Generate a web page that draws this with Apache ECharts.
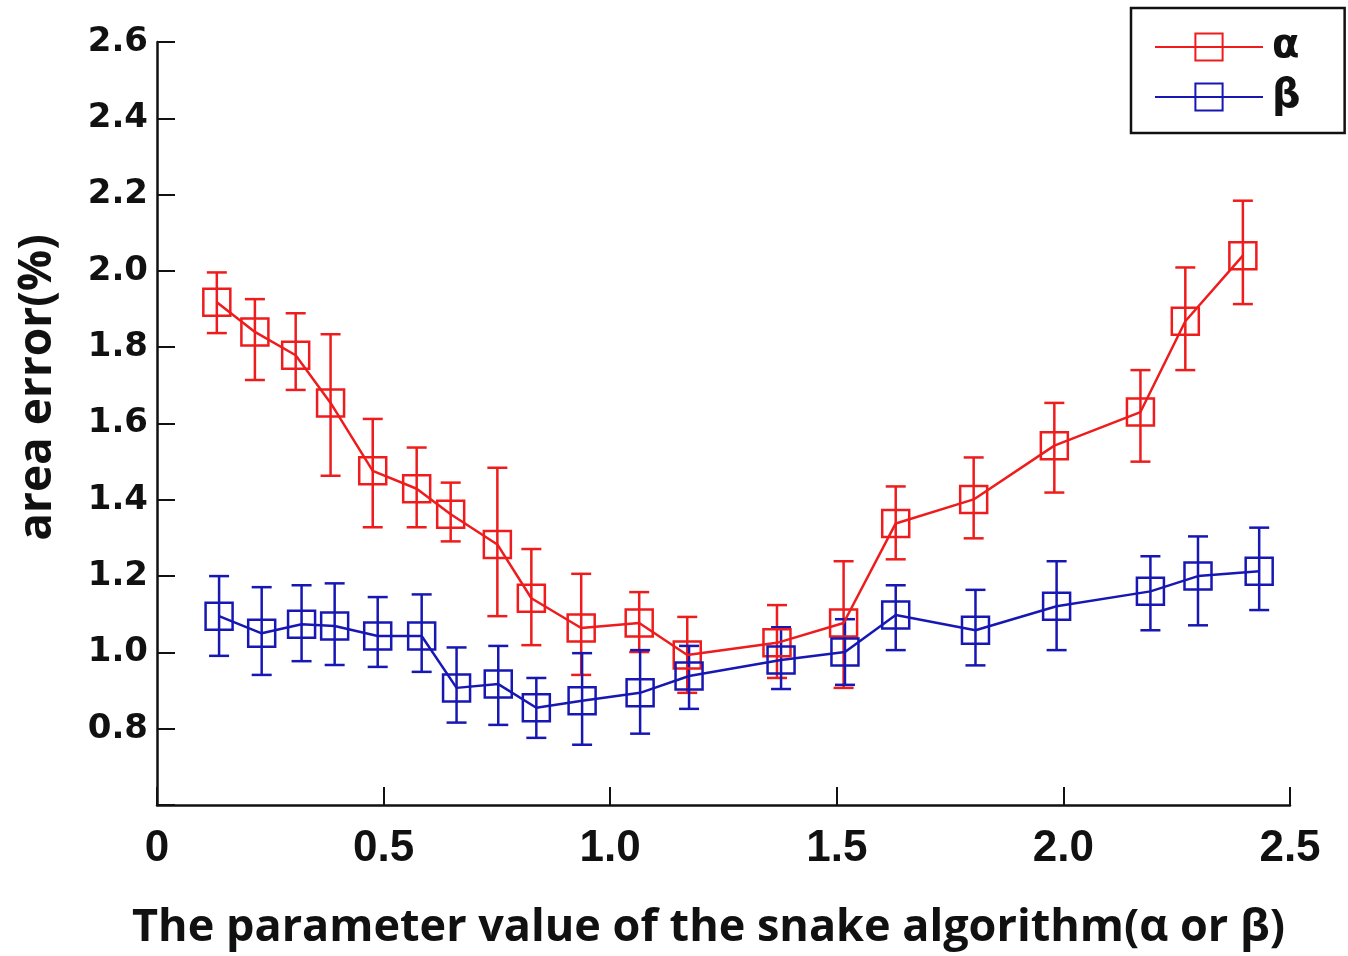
<!DOCTYPE html>
<html>
<head>
<meta charset="utf-8">
<script src="https://cdn.jsdelivr.net/npm/echarts@6/dist/echarts.min.js"></script>
<style>
  html, body { margin: 0; padding: 0; background: #fff; }
  #chart { width: 1348px; height: 956px; }
</style>
</head>
<body>
<div id="chart"></div>
<script>
// parameter values (x) and area error (%) with error bar bounds
var alphaX = [0.132, 0.216, 0.306, 0.383, 0.476, 0.573, 0.648, 0.751, 0.826, 0.936, 1.064, 1.170, 1.368, 1.515, 1.630, 1.802, 1.980, 2.170, 2.269, 2.396];
var alphaY = [1.918, 1.840, 1.779, 1.654, 1.476, 1.429, 1.362, 1.283, 1.142, 1.064, 1.077, 0.993, 1.025, 1.077, 1.338, 1.401, 1.542, 1.630, 1.868, 2.040];
var alphaHi = [1.996, 1.926, 1.889, 1.834, 1.612, 1.537, 1.445, 1.484, 1.271, 1.206, 1.158, 1.093, 1.124, 1.239, 1.435, 1.511, 1.654, 1.740, 2.009, 2.184];
var alphaLo = [1.837, 1.714, 1.688, 1.463, 1.328, 1.328, 1.291, 1.095, 1.019, 0.941, 1.001, 0.894, 0.933, 0.907, 1.244, 1.299, 1.419, 1.500, 1.740, 1.913];

var betaX = [0.137, 0.231, 0.319, 0.392, 0.487, 0.584, 0.661, 0.753, 0.837, 0.938, 1.066, 1.174, 1.377, 1.518, 1.630, 1.806, 1.985, 2.192, 2.297, 2.432];
var betaY = [1.095, 1.050, 1.074, 1.069, 1.043, 1.043, 0.907, 0.917, 0.855, 0.873, 0.894, 0.938, 0.980, 1.001, 1.098, 1.058, 1.121, 1.160, 1.200, 1.213];
var betaHi = [1.200, 1.171, 1.176, 1.181, 1.145, 1.152, 1.013, 1.017, 0.933, 0.998, 1.006, 1.017, 1.066, 1.087, 1.176, 1.164, 1.239, 1.252, 1.304, 1.327];
var betaLo = [0.991, 0.941, 0.977, 0.967, 0.962, 0.949, 0.816, 0.810, 0.776, 0.758, 0.787, 0.852, 0.904, 0.915, 1.006, 0.966, 1.006, 1.058, 1.071, 1.111];

var seriesNames = ['α', 'β'];
var colors = ['#ee1c1c', '#1717b4'];

function pairs(xs, ys) {
    var out = [];
    for (var i = 0; i < xs.length; i++) out.push([xs[i], ys[i]]);
    return out;
}
function bars(xs, lo, hi) {
    var out = [];
    for (var i = 0; i < xs.length; i++) out.push([xs[i], lo[i], hi[i]]);
    return out;
}

function errorBar(color) {
    return function (params, api) {
        var top = api.coord([api.value(0), api.value(2)]);
        var bot = api.coord([api.value(0), api.value(1)]);
        var half = 10;
        var style = { stroke: color, lineWidth: 2.5 };
        return {
            type: 'group',
            children: [
                { type: 'line', shape: { x1: top[0], y1: top[1], x2: bot[0], y2: bot[1] }, style: style },
                { type: 'line', shape: { x1: top[0] - half, y1: top[1], x2: top[0] + half, y2: top[1] }, style: style },
                { type: 'line', shape: { x1: bot[0] - half, y1: bot[1], x2: bot[0] + half, y2: bot[1] }, style: style }
            ]
        };
    };
}

function lineSeries(name, color, data) {
    return {
        name: name,
        type: 'line',
        data: data,
        symbol: 'rect',
        symbolSize: [27, 27],
        lineStyle: { color: color, width: 2.5 },
        itemStyle: { color: 'rgba(255,255,255,0)', borderColor: color, borderWidth: 2.5 },
        emphasis: { disabled: true },
        z: 3
    };
}

var myChart = echarts.init(document.getElementById('chart'));
var option = {
    backgroundColor: '#fff',
    animation: false,
    grid: { left: 157, right: 58, top: 42, bottom: 149 },
    legend: {
        orient: 'vertical',
        left: 1131,
        top: 8,
        padding: [19, 44, 16, 23],
        itemGap: 10,
        itemWidth: 108,
        itemHeight: 34,
        borderColor: '#111',
        borderWidth: 2.5,
        borderRadius: 0,
        data: seriesNames,
        textStyle: { fontFamily: 'DejaVu Sans', fontWeight: 'bold', fontSize: 40, color: '#111', padding: [0, 0, 0, 4] }
    },
    xAxis: {
        type: 'value',
        min: 0,
        max: 2.5,
        interval: 0.5,
        name: 'The parameter value of the snake algorithm(α or β)',
        nameLocation: 'middle',
        nameGap: 101,
        nameTextStyle: { fontFamily: 'Open Sans', fontWeight: 'bold', fontSize: 45, color: '#111', padding: [0, 30, 0, 0] },
        axisLine: { lineStyle: { color: '#111', width: 2.5 } },
        axisTick: { inside: true, length: 18, lineStyle: { color: '#111', width: 2 } },
        axisLabel: {
            margin: 22,
            fontFamily: 'Liberation Sans',
            fontWeight: 'bold',
            fontSize: 44,
            color: '#111',
            formatter: function (v) { return v === 0 ? '0' : v.toFixed(1); }
        },
        splitLine: { show: false }
    },
    yAxis: {
        type: 'value',
        min: 0.6,
        max: 2.6,
        interval: 0.2,
        name: 'area error(%)',
        nameLocation: 'middle',
        nameGap: 96,
        nameTextStyle: { fontFamily: 'Open Sans', fontWeight: 'bold', fontSize: 46, color: '#111', padding: [0, 0, 0, 72] },
        axisLine: { lineStyle: { color: '#111', width: 2.5 } },
        axisTick: { inside: true, length: 18, lineStyle: { color: '#111', width: 2 } },
        axisLabel: {
            margin: 9,
            fontFamily: 'DejaVu Sans',
            fontWeight: 'bold',
            fontSize: 34,
            color: '#111',
            formatter: function (v) { return Math.abs(v - 0.6) < 1e-6 ? '' : v.toFixed(1); }
        },
        splitLine: { show: false }
    },
    series: [
        { type: 'custom', renderItem: errorBar(colors[0]), data: bars(alphaX, alphaLo, alphaHi), encode: { x: 0, y: [1, 2] }, z: 2, silent: true },
        { type: 'custom', renderItem: errorBar(colors[1]), data: bars(betaX, betaLo, betaHi), encode: { x: 0, y: [1, 2] }, z: 2, silent: true },
        lineSeries(seriesNames[0], colors[0], pairs(alphaX, alphaY)),
        lineSeries(seriesNames[1], colors[1], pairs(betaX, betaY))
    ]
};
myChart.setOption(option);
</script>
</body>
</html>
